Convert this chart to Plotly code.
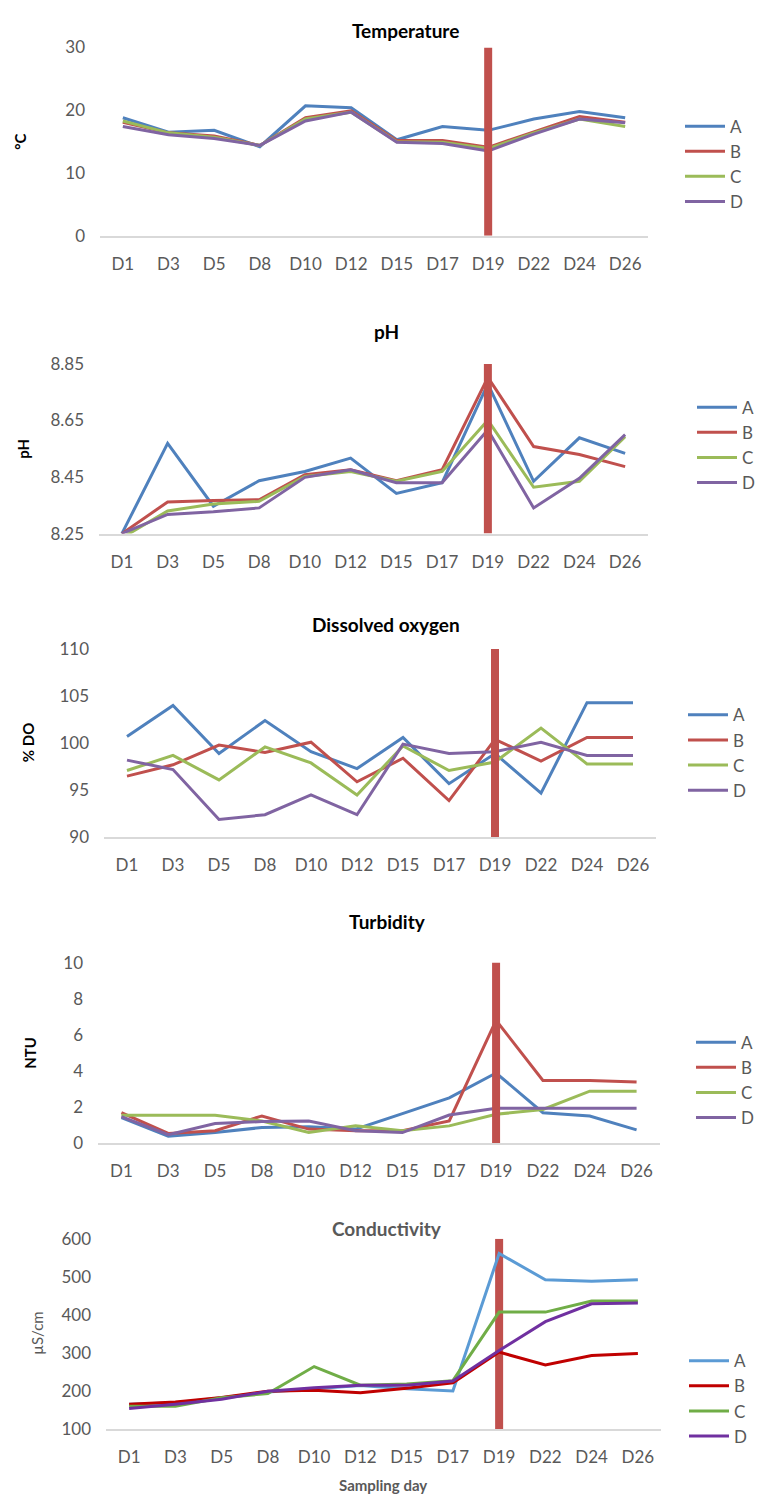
import plotly.graph_objects as go

W, H = 761, 1508

days = ["D1", "D3", "D5", "D8", "D10", "D12", "D15", "D17", "D19", "D22", "D24", "D26"]
sites = ["A", "B", "C", "D"]
event_day = "D19"

# Temperature (°C)
temp_A = [18.8, 16.5, 16.8, 14.2, 20.7, 20.4, 15.3, 17.4, 16.8, 18.6, 19.8, 18.8]
temp_B = [18.1, 16.4, 15.9, 14.4, 18.8, 19.9, 15.2, 15.2, 14.1, 16.5, 19.0, 18.1]
temp_C = [18.3, 16.4, 15.7, 14.4, 18.6, 19.7, 15.0, 14.9, 13.9, 16.4, 18.6, 17.4]
temp_D = [17.4, 16.1, 15.5, 14.4, 18.3, 19.7, 14.9, 14.7, 13.5, 16.2, 18.6, 18.0]

# pH
ph_A = [8.25, 8.569, 8.347, 8.437, 8.470, 8.517, 8.392, 8.430, 8.780, 8.435, 8.589, 8.534]
ph_B = [8.25, 8.362, 8.367, 8.370, 8.458, 8.476, 8.437, 8.476, 8.803, 8.558, 8.530, 8.487]
ph_C = [8.235, 8.330, 8.355, 8.364, 8.452, 8.470, 8.435, 8.470, 8.651, 8.414, 8.435, 8.593]
ph_D = [8.25, 8.318, 8.327, 8.341, 8.449, 8.476, 8.430, 8.430, 8.617, 8.341, 8.446, 8.600]

# Dissolved oxygen (% DO)
do_A = [100.7, 104.0, 98.9, 102.4, 99.1, 97.3, 100.6, 95.7, 98.9, 94.7, 104.3, 104.3]
do_B = [96.5, 97.7, 99.8, 99.0, 100.1, 95.9, 98.4, 93.9, 100.4, 98.1, 100.6, 100.6]
do_C = [97.1, 98.7, 96.1, 99.6, 97.9, 94.5, 99.7, 97.1, 98.0, 101.6, 97.8, 97.8]
do_D = [98.2, 97.2, 91.9, 92.4, 94.5, 92.4, 99.9, 98.9, 99.1, 100.1, 98.7, 98.7]

# Turbidity (NTU)
tu_A = [1.41, 0.37, 0.58, 0.86, 0.90, 0.77, 1.63, 2.50, 3.88, 1.68, 1.50, 0.73]
tu_B = [1.68, 0.53, 0.68, 1.50, 0.77, 0.68, 0.68, 1.22, 6.80, 3.47, 3.47, 3.38]
tu_C = [1.54, 1.54, 1.54, 1.22, 0.58, 0.95, 0.68, 0.95, 1.59, 1.86, 2.87, 2.87]
tu_D = [1.46, 0.46, 1.08, 1.19, 1.22, 0.68, 0.58, 1.55, 1.92, 1.92, 1.92, 1.92]

# Conductivity (µS/cm)
co_A = [165, 169, 182, 197, 206, 214, 206, 200, 561, 492, 488, 492]
co_B = [165, 171, 183, 199, 202, 195, 207, 221, 302, 268, 293, 298]
co_C = [160, 160, 182, 193, 264, 215, 218, 227, 407, 407, 436, 436]
co_D = [154, 165, 178, 199, 208, 215, 215, 226, 306, 382, 429, 431]

# ---------------------------------------------------------------------------
FONT = "Lato"
GRAY = "#595959"
cols_office = ["#4F81BD", "#C0504D", "#9BBB59", "#8064A2"]
cols_cond = ["#5B9BD5", "#C00000", "#70AD47", "#7030A0"]
BAR_COL = "#C0504D"

def px_x(p):
    return p / W

def px_y(p):
    return 1 - p / H

panels = [
    dict(title="Temperature", ytitle="°C", series=[temp_A, temp_B, temp_C, temp_D],
         yr=(0, 30), dt=10, fmt="", x=(100, 648), y=(37, 228), ty=20, tx=405, ytx=20,
         colors=cols_office, bar_top=True, tcol="black", ycol="black", ybold=True,
         leg=(680, 99)),
    dict(title="pH", ytitle="pH", series=[ph_A, ph_B, ph_C, ph_D],
         yr=(8.25, 8.85), dt=0.2, fmt=".2f", x=(99, 648), y=(358, 530), ty=325, tx=386, ytx=23,
         colors=cols_office, bar_top=True, tcol="black", ycol="black", ybold=True,
         leg=(692, 384)),
    dict(title="Dissolved oxygen", ytitle="% DO", series=[do_A, do_B, do_C, do_D],
         yr=(90, 110), dt=5, fmt="", x=(104, 656), y=(647, 838), ty=622, tx=386, ytx=28,
         colors=cols_office, bar_top=True, tcol="black", ycol="black", ybold=True,
         leg=(683, 696)),
    dict(title="Turbidity", ytitle="NTU", series=[tu_A, tu_B, tu_C, tu_D],
         yr=(0, 10), dt=2, fmt="", x=(98, 660), y=(965, 1148), ty=923, tx=387, ytx=30,
         colors=cols_office, bar_top=True, tcol="black", ycol="black", ybold=True,
         leg=(691, 1028)),
    dict(title="Conductivity", ytitle="µS/cm", series=[co_A, co_B, co_C, co_D],
         yr=(100, 600), dt=100, fmt="", x=(106, 661), y=(1245, 1438), ty=1235, tx=387, ytx=37,
         colors=cols_cond, bar_top=False, tcol=GRAY, ycol=GRAY, ybold=False,
         leg=(684, 1351)),
]

fig = go.Figure()
annotations = []
layout = dict(
    width=W, height=H,
    margin=dict(l=0, r=0, t=0, b=0),
    paper_bgcolor="white", plot_bgcolor="white",
    font=dict(family=FONT, color=GRAY, size=16),
)

for i, p in enumerate(panels, start=1):
    sx = "" if i == 1 else str(i)
    xa, ya = "x" + sx, "y" + sx
    lg = "legend" + sx

    def bar_trace():
        return go.Scatter(x=[event_day, event_day], y=[p["yr"][0], p["yr"][1]],
                          mode="lines", line=dict(color=BAR_COL, width=8),
                          xaxis=xa, yaxis=ya, showlegend=False, hoverinfo="skip")

    if not p["bar_top"]:
        fig.add_trace(bar_trace())
    for name, vals, c in zip(sites, p["series"], p["colors"]):
        fig.add_trace(go.Scatter(x=days, y=vals, name=name, mode="lines",
                                 line=dict(color=c, width=3),
                                 xaxis=xa, yaxis=ya, legend=lg))
    if p["bar_top"]:
        fig.add_trace(bar_trace())

    layout["xaxis" + sx] = dict(
        domain=[px_x(p["x"][0]), px_x(p["x"][1])], anchor=ya,
        type="category", categoryorder="array", categoryarray=days,
        range=[-0.5, len(days) - 0.5],
        showline=True, linecolor="#D9D9D9", linewidth=1.5,
        showgrid=False, zeroline=False, ticks="",
        tickfont=dict(family=FONT, size=17, color=GRAY),
        ticklabelstandoff=12,
    )
    layout["yaxis" + sx] = dict(
        domain=[px_y(p["y"][1]), px_y(p["y"][0])], anchor=xa,
        range=list(p["yr"]), dtick=p["dt"], tick0=p["yr"][0], tickformat=p["fmt"],
        showline=False, showgrid=False, zeroline=False, ticks="",
        tickfont=dict(family=FONT, size=17, color=GRAY),
        ticklabelstandoff=14,
    )
    layout[lg] = dict(
        x=px_x(p["leg"][0]), y=px_y(p["leg"][1]), xanchor="left", yanchor="top",
        font=dict(family=FONT, size=17, color=GRAY), bgcolor="rgba(0,0,0,0)",
        tracegroupgap=0, itemwidth=40,
    )
    annotations.append(dict(
        text="<b>%s</b>" % p["title"], x=px_x(p["tx"]), y=px_y(p["ty"]),
        xref="paper", yref="paper", showarrow=False, xanchor="center", yanchor="middle",
        font=dict(family=FONT, size=19, color=p["tcol"]),
    ))
    ytxt = "<b>%s</b>" % p["ytitle"] if p["ybold"] else p["ytitle"]
    annotations.append(dict(
        text=ytxt, x=px_x(p["ytx"]), y=px_y((p["y"][0] + p["y"][1]) / 2), textangle=-90,
        xref="paper", yref="paper", showarrow=False, xanchor="center", yanchor="middle",
        font=dict(family=FONT, size=15, color=p["ycol"]),
    ))

annotations.append(dict(
    text="<b>Sampling day</b>", x=px_x(383), y=px_y(1495), xref="paper", yref="paper",
    showarrow=False, xanchor="center", yanchor="middle",
    font=dict(family=FONT, size=15, color=GRAY),
))

layout["annotations"] = annotations
fig.update_layout(**layout)
fig.write_html("out.html")
